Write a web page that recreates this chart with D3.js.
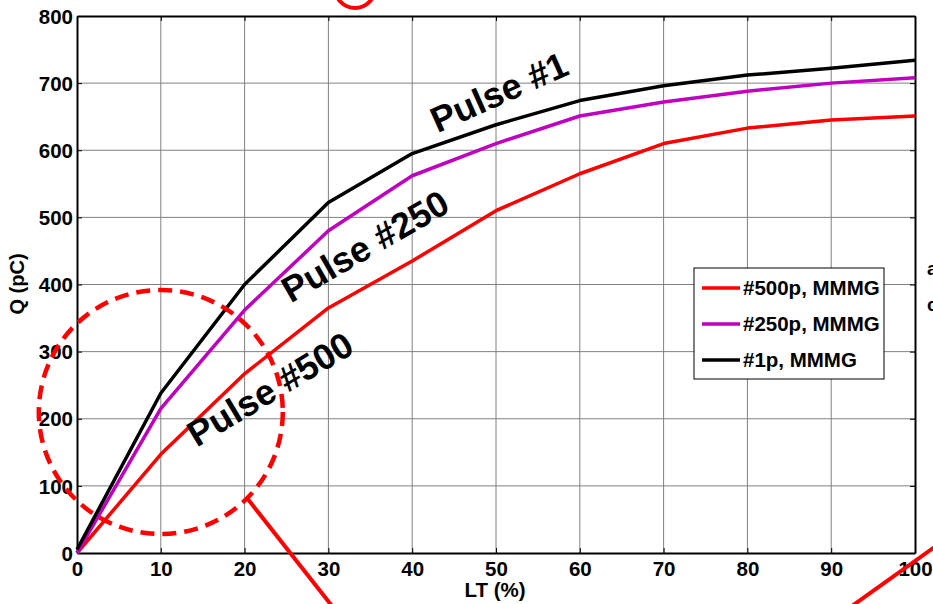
<!DOCTYPE html>
<html>
<head>
<meta charset="utf-8">
<script src="https://cdn.jsdelivr.net/npm/d3@7"></script>
<style>
  html, body { margin: 0; padding: 0; background: #fff; }
  svg { display: block; font-family: Arial, "Liberation Sans", sans-serif; }
</style>
</head>
<body>
<svg id="chart" width="933" height="604"></svg>
<script>
// Charge Q versus LT for three pulse numbers
const ltValues = [0, 10, 20, 30, 40, 50, 60, 70, 80, 90, 100];
const q500 = [0, 147, 267, 365, 435, 510, 565, 610, 633, 645, 651];
const q250 = [0, 215, 362, 480, 562, 610, 651, 672, 688, 700, 708];
const q1   = [5, 238, 400, 522, 595, 638, 674, 696, 712, 722, 734];

const xTicks = [0, 10, 20, 30, 40, 50, 60, 70, 80, 90, 100];
const yTicks = [0, 100, 200, 300, 400, 500, 600, 700, 800];

const seriesNames = ["#500p, MMMG", "#250p, MMMG", "#1p, MMMG"];
const seriesColors = ["#ff0000", "#bf00bf", "#000000"];
const seriesData = [q500, q250, q1];

const svg = d3.select("#chart");
const L = 77, R = 915, T = 16, B = 553;

const x = d3.scaleLinear().domain([0, 100]).range([L, R]);
const y = d3.scaleLinear().domain([0, 800]).range([B, T]);

// grid
const grid = svg.append("g");
grid.selectAll(".gx").data(xTicks.slice(1, -1)).join("line")
  .attr("x1", d => x(d)).attr("x2", d => x(d)).attr("y1", T).attr("y2", B)
  .attr("stroke", "#808080").attr("stroke-width", 1);
grid.selectAll(".gy").data(yTicks.slice(1, -1)).join("line")
  .attr("y1", d => y(d)).attr("y2", d => y(d)).attr("x1", L).attr("x2", R)
  .attr("stroke", "#808080").attr("stroke-width", 1);

// axes with inward ticks
const fmt = d3.format("d");
const xAxis = svg.append("g").attr("transform", `translate(0,${B})`)
  .call(d3.axisBottom(x).tickValues(xTicks).tickFormat(fmt).tickSizeInner(-5).tickSizeOuter(0).tickPadding(9));
const xAxisTop = svg.append("g").attr("transform", `translate(0,${T})`)
  .call(d3.axisTop(x).tickValues(xTicks).tickFormat("").tickSizeInner(-5).tickSizeOuter(0));
const yAxis = svg.append("g").attr("transform", `translate(${L},0)`)
  .call(d3.axisLeft(y).tickValues(yTicks).tickFormat(fmt).tickSizeInner(-5).tickSizeOuter(0).tickPadding(4));
const yAxisRight = svg.append("g").attr("transform", `translate(${R},0)`)
  .call(d3.axisRight(y).tickValues(yTicks).tickFormat("").tickSizeInner(-5).tickSizeOuter(0));

[xAxis, xAxisTop, yAxis, yAxisRight].forEach(g => {
  g.select(".domain").attr("stroke", "#000").attr("stroke-width", 2);
  g.selectAll(".tick line").attr("stroke", "#000").attr("stroke-width", 1);
  g.selectAll("text").attr("fill", "#000").attr("font-size", 20.5).attr("font-weight", "bold")
    .attr("font-family", "Arial, 'Liberation Sans', sans-serif");
});
yAxis.selectAll("text").attr("dy", "0.35em");
xAxis.selectAll("text").attr("dy", "0.7em");

// axis titles
svg.append("text").attr("x", 495).attr("y", 597).attr("text-anchor", "middle")
  .attr("font-size", 20.5).attr("font-weight", "bold").text("LT (%)");
svg.append("text").attr("transform", "translate(24,284) rotate(-90)")
  .attr("text-anchor", "middle").attr("font-size", 20).attr("font-weight", "bold").text("Q (pC)");

// series lines
const line = d3.line().x((d, i) => x(ltValues[i])).y(d => y(d));
seriesData.forEach((vals, i) => {
  svg.append("path").datum(vals).attr("d", line)
    .attr("fill", "none").attr("stroke", seriesColors[i])
    .attr("stroke-width", 3.5).attr("stroke-linejoin", "round");
});

// pulse labels on the curves
const labels = [
  { text: "Pulse #1", cx: 499, cy: 92, rot: -24 },
  { text: "Pulse #250", cx: 365, cy: 246, rot: -30 },
  { text: "Pulse #500", cx: 270, cy: 389, rot: -31 }
];
labels.forEach(l => {
  svg.append("text").attr("transform", `translate(${l.cx},${l.cy}) rotate(${l.rot})`)
    .attr("text-anchor", "middle").attr("dy", "0.35em")
    .attr("font-size", 36).attr("font-weight", "bold").attr("fill", "#000").text(l.text);
});

// legend
const lg = svg.append("g").attr("transform", "translate(694,268)");
lg.append("rect").attr("width", 190).attr("height", 111).attr("fill", "#fff")
  .attr("stroke", "#000").attr("stroke-width", 1);
seriesNames.forEach((name, i) => {
  const yy = 20 + i * 36;
  lg.append("line").attr("x1", 8).attr("x2", 46).attr("y1", yy).attr("y2", yy)
    .attr("stroke", seriesColors[i]).attr("stroke-width", 3.5);
  lg.append("text").attr("x", 49).attr("y", yy).attr("dy", "0.36em")
    .attr("font-size", 20.5).attr("font-weight", "bold").text(name);
});

// red callout annotations
const red = "#ff0000";
svg.append("circle").attr("cx", x(10)).attr("cy", y(210)).attr("r", 122)
  .attr("fill", "none").attr("stroke", red).attr("stroke-width", 4.5)
  .attr("stroke-dasharray", "14 8");
svg.append("line").attr("x1", 247).attr("y1", 498).attr("x2", 332).attr("y2", 606)
  .attr("stroke", red).attr("stroke-width", 4);
svg.append("line").attr("x1", 852).attr("y1", 606).attr("x2", 936).attr("y2", 546)
  .attr("stroke", red).attr("stroke-width", 4);
svg.append("circle").attr("cx", 355).attr("cy", -12).attr("r", 20)
  .attr("fill", "none").attr("stroke", red).attr("stroke-width", 4);

// neighbouring text at the right edge
svg.append("text").attr("x", 927).attr("y", 275).attr("font-size", 19).attr("font-weight", "bold").text("a");
svg.append("text").attr("x", 927).attr("y", 311).attr("font-size", 19).attr("font-weight", "bold").text("c");
</script>
</body>
</html>
